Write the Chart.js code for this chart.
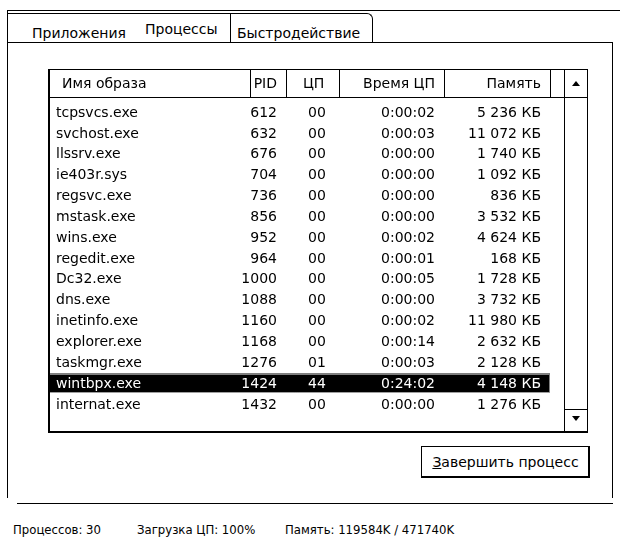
<!DOCTYPE html>
<html lang="ru">
<head>
<meta charset="utf-8">
<title>Диспетчер задач</title>
<script src="https://cdn.jsdelivr.net/npm/chart.js@4.4.1/dist/chart.umd.min.js"></script>
<style>
    html, body { margin: 0; padding: 0; background: #fff; }
    body { width: 620px; height: 543px; position: relative; overflow: hidden; font: 14px "DejaVu Sans", sans-serif; color: #000; }
    .ln { position: absolute; background: #000; }
    .txt { position: absolute; white-space: nowrap; line-height: 16px; }
    .status { font-size: 13px; font-stretch: condensed; }
    .tab-perf { position: absolute; left: 230px; top: 13px; width: 143px; height: 29px; box-sizing: border-box;
        border: 1px solid #000; border-bottom: none; border-top-right-radius: 6px; background: #fff; }
    #list-wrap { position: absolute; left: 48px; top: 69px; width: 516px; height: 364px; }
    .list-frame { position: absolute; left: 48px; top: 69px; width: 517px; height: 364px; box-sizing: border-box;
        border: 1px solid #000; border-left-width: 2px; border-bottom-width: 2px; pointer-events: none; }
    .scroll { position: absolute; left: 564px; top: 69px; width: 24px; height: 364px; box-sizing: border-box;
        border: 1px solid #000; border-bottom-width: 2px; }
    .tri-up, .tri-down { position: absolute; left: 7px; width: 0; height: 0; border-left: 4px solid transparent; border-right: 4px solid transparent; }
    .tri-up { top: 11px; border-bottom: 5px solid #000; }
    .tri-down { top: 346px; border-top: 5px solid #000; }
    .btn { position: absolute; left: 421px; top: 446px; width: 169px; height: 32px; box-sizing: border-box;
        border: 1px solid #000; box-shadow: inset -1px -1px 0 #000; text-align: center; line-height: 30px; }
</style>
</head>
<body>
<!-- рамка вкладок -->
<div class="ln" style="left:7px; top:10px; width:613px; height:1px;"></div>
<div class="ln" style="left:8px; top:13px; width:222px; height:1px;"></div>
<div class="tab-perf"></div>
<div class="ln" style="left:7px; top:42px; width:606px; height:1px;"></div>
<div class="ln" style="left:7px; top:10px; width:1px; height:488px;"></div>
<div class="ln" style="left:612px; top:42px; width:1px; height:456px;"></div>
<div class="ln" style="left:17px; top:503px; width:596px; height:1px;"></div>

<div class="txt" style="left:32px; top:25px;">Приложения</div>
<div class="txt" style="left:145px; top:21px;">Процессы</div>
<div class="txt" style="left:237px; top:25px;">Быстродействие</div>

<div id="list-wrap"><canvas id="processChart"></canvas></div>
<div class="list-frame"></div>

<div class="scroll">
    <div class="tri-up"></div>
    <div class="ln" style="left:0; top:27px; width:22px; height:1px;"></div>
    <div class="ln" style="left:0; top:339px; width:22px; height:1px;"></div>
    <div class="tri-down"></div>
</div>

<div class="btn"><u>З</u>авершить процесс</div>

<div class="txt status" style="left:13px; top:522px;">Процессов: 30</div>
<div class="txt status" style="left:137px; top:522px;">Загрузка ЦП: 100%</div>
<div class="txt status" style="left:285px; top:522px;">Память: 119584K / 471740K</div>

<script>
const columnTitles = ['Имя образа', 'PID', 'ЦП', 'Время ЦП', 'Память'];
const processNames = ['tcpsvcs.exe', 'svchost.exe', 'llssrv.exe', 'ie403r.sys', 'regsvc.exe', 'mstask.exe', 'wins.exe',
    'regedit.exe', 'Dc32.exe', 'dns.exe', 'inetinfo.exe', 'explorer.exe', 'taskmgr.exe', 'wintbpx.exe', 'internat.exe'];
const pids = [612, 632, 676, 704, 736, 856, 952, 964, 1000, 1088, 1160, 1168, 1276, 1424, 1432];
const cpuLoad = ['00', '00', '00', '00', '00', '00', '00', '00', '00', '00', '00', '00', '01', '44', '00'];
const cpuTime = ['0:00:02', '0:00:03', '0:00:00', '0:00:00', '0:00:00', '0:00:00', '0:00:02', '0:00:01',
    '0:00:05', '0:00:00', '0:00:02', '0:00:14', '0:00:03', '0:24:02', '0:00:00'];
const memoryKb = [5236, 11072, 1740, 1092, 836, 3532, 4624, 168, 1728, 3732, 11980, 2632, 2128, 4148, 1276];
const selectedRow = 13;

// раскладка колонок (в пикселях шкалы x)
const columnEdges = [0, 202, 238, 291, 396, 502];
const headerEnd = 516;
const headerHeight = 28;
const cellLayout = [
    { align: 'left', at: 8, headAt: 14 },
    { align: 'right', at: 229, headAt: 229 },
    { align: 'left', at: 260, headAt: 255 },
    { align: 'right', at: 387, headAt: 387 },
    { align: 'right', at: 493, headAt: 493 }
];

function formatKb(v) {
    return String(v).replace(/\B(?=(\d{3})+(?!\d))/g, ' ') + ' КБ';
}

const tablePlugin = {
    id: 'processTable',
    afterDatasetsDraw(chart) {
        const { ctx, scales: { x, y } } = chart;
        ctx.save();
        ctx.font = '14px "DejaVu Sans", sans-serif';
        ctx.textBaseline = 'middle';
        ctx.fillStyle = '#000';
        ctx.strokeStyle = '#000';
        ctx.lineWidth = 1;

        // заголовок
        ctx.beginPath();
        ctx.moveTo(x.getPixelForValue(0), headerHeight + 0.5);
        ctx.lineTo(x.getPixelForValue(headerEnd), headerHeight + 0.5);
        columnEdges.slice(1).forEach((edge) => {
            const px = Math.round(x.getPixelForValue(edge)) + 0.5;
            ctx.moveTo(px, 0);
            ctx.lineTo(px, headerHeight);
        });
        ctx.stroke();
        columnTitles.forEach((title, c) => {
            ctx.textAlign = cellLayout[c].align;
            ctx.fillText(title, x.getPixelForValue(cellLayout[c].headAt), headerHeight / 2 + 1);
        });

        // строки
        processNames.forEach((name, i) => {
            const py = y.getPixelForValue(i);
            const cells = [name, String(pids[i]), cpuLoad[i], cpuTime[i], formatKb(memoryKb[i])];
            ctx.fillStyle = i === selectedRow ? '#fff' : '#000';
            cells.forEach((text, c) => {
                ctx.textAlign = cellLayout[c].align;
                ctx.fillText(text, x.getPixelForValue(cellLayout[c].at), py + 1);
            });
        });

        // рамка фокуса
        const bar = chart.getDatasetMeta(0).data[selectedRow];
        if (bar) {
            const top = Math.round(bar.y - bar.height / 2) + 0.5;
            const h = Math.round(bar.height) - 1;
            ctx.setLineDash([1, 1]);
            ctx.strokeStyle = '#fff';
            ctx.strokeRect(Math.round(bar.base) + 0.5, top, Math.round(bar.x - bar.base) - 1, h);
        }
        ctx.restore();
    }
};

new Chart(document.getElementById('processChart'), {
    type: 'bar',
    data: {
        labels: processNames,
        datasets: [{
            label: 'Выбранный процесс',
            data: processNames.map((_, i) => (i === selectedRow ? [columnEdges[0], columnEdges[columnEdges.length - 1]] : null)),
            backgroundColor: '#000',
            borderWidth: 0,
            barPercentage: 1,
            categoryPercentage: 0.92
        }]
    },
    options: {
        indexAxis: 'y',
        responsive: true,
        maintainAspectRatio: false,
        animation: false,
        layout: { padding: { top: 32.6, bottom: 18.6, left: 0, right: 0 } },
        plugins: { legend: { display: false }, tooltip: { enabled: false } },
        events: [],
        scales: {
            x: { type: 'linear', min: 0, max: headerEnd, display: false },
            y: { type: 'category', display: false, offset: true }
        }
    },
    plugins: [tablePlugin]
});
</script>
</body>
</html>
